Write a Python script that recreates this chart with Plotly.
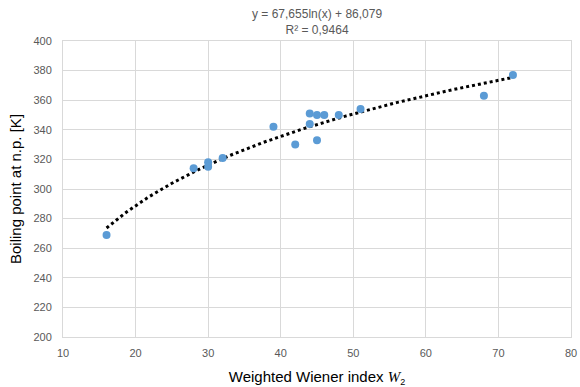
import numpy as np
import plotly.graph_objects as go

# Data
wiener_w2 = [16, 28, 30, 30, 32, 39, 42, 44, 44, 45, 45, 46, 48, 51, 68, 72]
boiling_k = [269, 314, 318, 315, 321, 342, 330, 351, 344, 350, 333, 350, 350, 354, 363, 377]

# Logarithmic trendline coefficients (as displayed)
trend_a = 67.655
trend_b = 86.079
trend_r2 = 0.9464

x_ticks = [10, 20, 30, 40, 50, 60, 70, 80]
y_ticks = [200, 220, 240, 260, 280, 300, 320, 340, 360, 380, 400]

tx = np.linspace(min(wiener_w2), max(wiener_w2), 200)
ty = trend_a * np.log(tx) + trend_b

fig = go.Figure()
fig.add_trace(go.Scatter(
    x=tx, y=ty, mode="lines",
    line=dict(color="black", width=3, dash="dot"),
    hoverinfo="skip", showlegend=False))
fig.add_trace(go.Scatter(
    x=wiener_w2, y=boiling_k, mode="markers",
    marker=dict(color="#5b9bd5", size=8),
    showlegend=False))

grid = "#d9d9d9"
tickfont = dict(family="Liberation Sans, Arial", size=11, color="#595959")

fig.update_layout(
    width=580, height=387,
    margin=dict(l=63, r=9, t=41, b=50),
    paper_bgcolor="white", plot_bgcolor="white",
    xaxis=dict(range=[10, 80], tickvals=x_ticks, showgrid=True, gridcolor=grid,
               gridwidth=1, zeroline=False, showline=True, linecolor=grid, mirror=True,
               tickfont=tickfont, ticks="", automargin=False, ticklabelstandoff=6,
               title=dict(text="Weighted Wiener index <span style='font-family:Liberation Serif, serif; font-style:italic'>W</span><sub><span style='font-size:9px'>2</span></sub>",
                          font=dict(family="Liberation Sans, Arial", size=15, color="black"),
                          standoff=14)),
    yaxis=dict(range=[200, 400], tickvals=y_ticks, showgrid=True, gridcolor=grid,
               gridwidth=1, zeroline=False, showline=True, linecolor=grid, mirror=True,
               tickfont=tickfont, ticks="", automargin=False, ticklabelstandoff=8,
               title=dict(text="Boiling point at n.p. [K]",
                          font=dict(family="Liberation Sans, Arial", size=15, color="black"),
                          standoff=8)),
    annotations=[
        dict(text="y = {:,.3f}ln(x) + {:,.3f}".format(trend_a, trend_b).replace(".", ",")
             + "<br>R² = " + "{:.4f}".format(trend_r2).replace(".", ","),
             xref="paper", yref="paper", x=0.5, y=1.0, yanchor="bottom", xanchor="center",
             showarrow=False, align="center",
             font=dict(family="Liberation Sans, Arial", size=12, color="#595959"),
             yshift=2),
    ],
)

fig.write_html("out.html", config={"displayModeBar": False},
               post_script="document.body.style.margin='0';")
